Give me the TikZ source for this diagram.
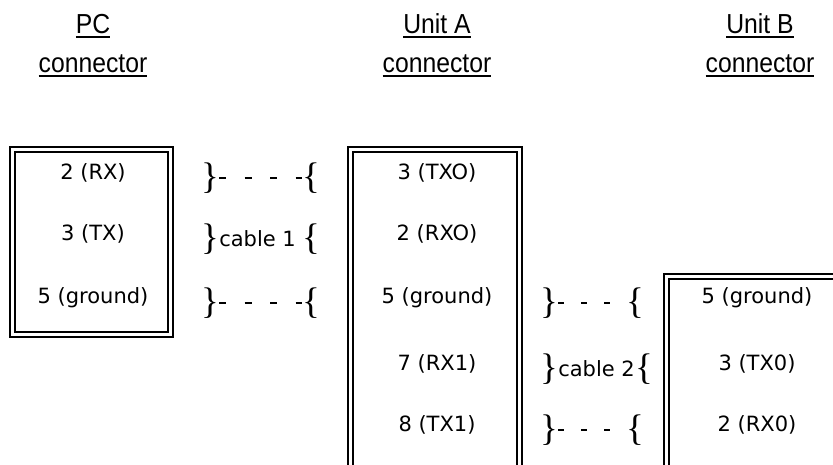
\documentclass[tikz,border=0pt]{standalone}
\usepackage{fontspec}
\setmainfont{DejaVu Sans}
\newfontfamily\headfont[FakeStretch=0.9]{Liberation Sans}
\newfontfamily\bracefont{Liberation Serif}
\usetikzlibrary{positioning}
\newcommand\hdline[1]{\setbox0=\hbox{#1}\rlap{\rule[-5pt]{\wd0}{1.8pt}}\box0}
\tikzset{%
  conn/.style={draw=black,double,double distance=2.4pt,line width=2.2pt},
  pin/.style={font=\fontsize{21}{25}\selectfont},
  head/.style={font=\headfont\fontsize{27.5}{32}\selectfont,anchor=base},
  brc/.style={font=\bracefont\fontsize{37}{40}\selectfont,inner sep=0pt},
  lbl/.style={font=\fontsize{21}{25}\selectfont,inner sep=0pt},
  wire/.style={line width=2pt,dash pattern=on 7pt off 18.5pt}%
}
\begin{document}
\begin{tikzpicture}[x=1pt,y=-1pt]
      \useasboundingbox (0,0) rectangle (833,464);
      \clip (0,0) rectangle (833,464);

      % connector bodies
      \draw[conn] (12.5,149.5) rectangle (170.5,334.5);
      \draw[conn] (350.5,149.5) rectangle (519.5,490);
      \draw[conn] (666.5,276.5) rectangle (860,490);

      % headings
      \node (pc_name) [head] at (93,33) {\hdline{PC}};
      \node (pc_word) [head] at (93,72) {\hdline{connector}};
      \node (ua_name) [head] at (437,33) {\hdline{Unit A}};
      \node (ua_word) [head] at (437,72) {\hdline{connector}};
      \node (ub_name) [head] at (760,33) {\hdline{Unit B}};
      \node (ub_word) [head] at (760,72) {\hdline{connector}};

      % pins
      \node (pc_rx) [pin] at (93,173) {2 (RX)};
      \node (pc_tx) [pin] at (93,234) {3 (TX)};
      \node (pc_gnd) [pin] at (93,298) {5 (ground)};
      \node (ua_txo) [pin] at (437,173) {3 (TXO)};
      \node (ua_rxo) [pin] at (437,234) {2 (RXO)};
      \node (ua_gnd) [pin] at (437,298) {5 (ground)};
      \node (ua_rx1) [pin] at (437,364) {7 (RX1)};
      \node (ua_tx1) [pin] at (437,425) {8 (TX1)};
      \node (ub_gnd) [pin] at (757,298) {5 (ground)};
      \node (ub_tx0) [pin] at (757,364) {3 (TX0)};
      \node (ub_rx0) [pin] at (757,425) {2 (RX0)};

      % cable 1
      \node (c1_l1) [brc] at (210,178) {\}};
      \node (c1_r1) [brc] at (311,178) {\{};
      \node (c1_l2) [brc] at (210,239) {\}};
      \node (c1_lbl) [lbl,right=0pt of c1_l2] {cable 1};
      \node (c1_r2) [brc] at (311,239) {\{};
      \node (c1_l3) [brc] at (210,303) {\}};
      \node (c1_r3) [brc] at (311,303) {\{};
      \draw[wire] (c1_l1.east) -- (c1_r1.west);
      \draw[wire] (c1_l3.east) -- (c1_r3.west);

      % cable 2
      \node (c2_l1) [brc] at (549,303) {\}};
      \node (c2_r1) [brc] at (635,303) {\{};
      \node (c2_l2) [brc] at (549,369) {\}};
      \node (c2_lbl) [lbl,right=0pt of c2_l2] {cable 2};
      \node (c2_r2) [brc,right=0pt of c2_lbl] {\{};
      \node (c2_l3) [brc] at (549,430) {\}};
      \node (c2_r3) [brc] at (635,430) {\{};
      \draw[wire,dash pattern=on 6pt off 17pt] (c2_l1.east) -- (c2_r1.west);
      \draw[wire,dash pattern=on 6pt off 17pt] (c2_l3.east) -- (c2_r3.west);
\end{tikzpicture}
\end{document}
